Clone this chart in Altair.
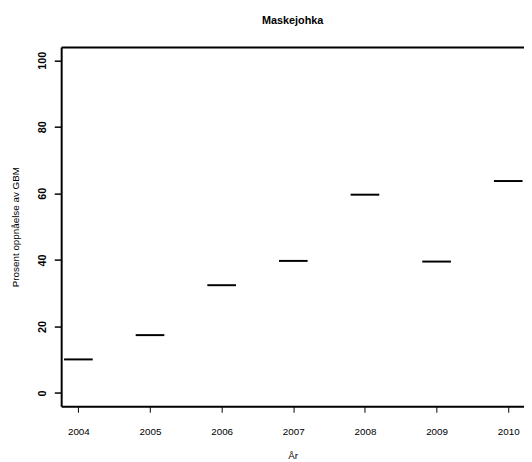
import altair as alt
import pandas as pd

years = [2004, 2005, 2006, 2007, 2008, 2009, 2010]
values = [10.1, 17.4, 32.4, 39.7, 59.6, 39.5, 63.7]
x_ticks = [2004, 2005, 2006, 2007, 2008, 2009, 2010]
y_ticks = [0, 20, 40, 60, 80, 100]

df = pd.DataFrame({"year": years, "value": values})

FONT = "Liberation Sans"
xscale = alt.Scale(domain=[2003.76, 2010.22], nice=False, zero=False)
yscale = alt.Scale(domain=[-4, 104], nice=False, zero=False)

yaxis = alt.Axis(values=y_ticks, grid=False, domainColor="black", domainWidth=2,
                 tickColor="black", tickWidth=1.5, tickSize=7,
                 labelAngle=270, labelAlign="center", labelBaseline="alphabetic",
                 labelFont=FONT, labelFontSize=11, labelFontWeight="bold",
                 labelColor="black", labelPadding=9,
                 titleFont=FONT, titleFontSize=10, titleFontWeight="normal",
                 titleColor="black", titlePadding=16)
YTITLE = "Prosent oppnåelse av GBM"

base = alt.Chart(df)

segs = base.mark_rule(color="black", strokeWidth=2).transform_calculate(
    x0="datum.year - 0.2", x1="datum.year + 0.2"
).encode(
    x=alt.X("x0:Q", scale=xscale, title="År",
            axis=alt.Axis(orient="bottom", values=x_ticks, format="d", grid=False,
                          domainColor="black", domainWidth=2,
                          tickColor="black", tickWidth=1, tickSize=6,
                          labelFont=FONT, labelFontSize=10, labelColor="black",
                          labelPadding=15, titleFont=FONT, titleFontSize=10,
                          titleFontWeight="normal", titleColor="black", titlePadding=14)),
    x2="x1:Q",
    y=alt.Y("value:Q", scale=yscale, title=YTITLE, axis=yaxis),
)

top = base.mark_point(opacity=0).encode(
    x=alt.X("year:Q", scale=xscale,
            axis=alt.Axis(orient="top", labels=False, ticks=False, title=None, grid=False,
                          domainColor="black", domainWidth=2)),
    y=alt.Y("value:Q", scale=yscale, title=YTITLE, axis=yaxis),
)

chart = alt.layer(segs, top).resolve_axis(x="independent").properties(
    width=470, height=365,
    title=alt.TitleParams("Maskejohka", font=FONT, fontSize=11, fontWeight="bold",
                          anchor="middle", color="black", baseline="bottom", offset=10),
    autosize=alt.AutoSizeParams(type="none"),
    padding={"left": 54, "top": 36, "right": 0, "bottom": 53},
).configure_view(strokeWidth=0).configure(background="white")

chart.save("out.html", embed_options={"renderer": "svg", "actions": False})
